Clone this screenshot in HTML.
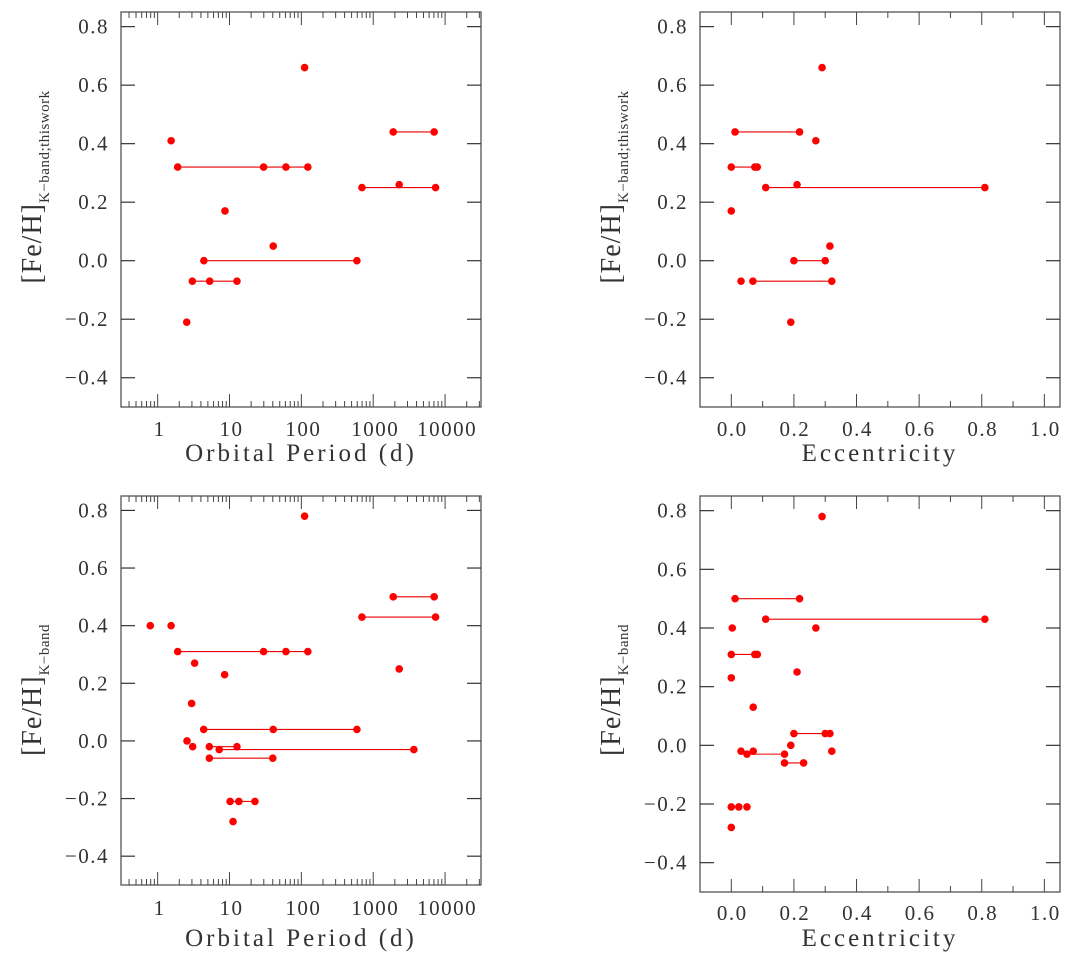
<!DOCTYPE html>
<html><head><meta charset="utf-8"><style>
html,body{margin:0;padding:0;background:#fff;}
svg{display:block;font-family:"Liberation Serif",serif;}
</style></head><body>
<svg id="chart" width="1071" height="966" viewBox="0 0 1071 966" xmlns="http://www.w3.org/2000/svg"></svg>
<script>
// Groups: each group is a set of points sharing a [Fe/H] value, connected by a line
const tlPeriods = [[1.54],[1.9,29.8,61,123],[111],[1900,7050],[697,2300,7370],[8.65],[40.6],[4.4,593],[3.04,5.3,12.7],[2.54]];
const tlFeHPts  = [[0.41],[0.32,0.32,0.32,0.32],[0.66],[0.44,0.44],[0.25,0.26,0.25],[0.17],[0.05],[0,0],[-0.07,-0.07,-0.07],[-0.21]];

const trEcc     = [[0.29],[0.012,0.218],[0.27],[0.0,0.075,0.083],[0.11,0.81],[0.21],[0.0],[0.315],[0.2,0.30],[0.031],[0.069,0.321],[0.19]];
const trFeHPts  = [[0.66],[0.44,0.44],[0.41],[0.32,0.32,0.32],[0.25,0.25],[0.26],[0.17],[0.05],[0,0],[-0.07],[-0.07,-0.07],[-0.21]];

const blPeriods = [[0.79],[1.54],[1.9,29.8,61,123],[3.27],[8.55],[111],[1900,7050],[697,7370],[2300],[2.97],[4.37,40.6,593],[2.56],[3.07],[5.24,12.7],[7.2,3680],[5.24,40],[10.2,13.5,22.6],[11.2]];
const blFeHPts  = [[0.40],[0.40],[0.31,0.31,0.31,0.31],[0.27],[0.23],[0.78],[0.50,0.50],[0.43,0.43],[0.25],[0.13],[0.04,0.04,0.04],[0.0],[-0.02],[-0.02,-0.02],[-0.03,-0.03],[-0.06,-0.06],[-0.21,-0.21,-0.21],[-0.28]];

const brEcc     = [[0.29],[0.012,0.218],[0.11,0.81],[0.003],[0.27],[0.0,0.075,0.083],[0.21],[0.0],[0.07],[0.2,0.30,0.315],[0.19],[0.031],[0.07],[0.321],[0.05,0.17],[0.17,0.231],[0.0],[0.024],[0.05],[0.0]];
const brFeHPts  = [[0.78],[0.50,0.50],[0.43,0.43],[0.40],[0.40],[0.31,0.31,0.31],[0.25],[0.23],[0.13],[0.04,0.04,0.04],[0.0],[-0.02],[-0.02],[-0.02],[-0.03,-0.03],[-0.06,-0.06],[-0.21],[-0.21],[-0.21],[-0.28]];

const yTickVals = [0.8,0.6,0.4,0.2,0.0,-0.2,-0.4];
const yTickLabels = ["0.8","0.6","0.4","0.2","0.0","\u22120.2","\u22120.4"];
const logTickVals = [1,10,100,1000,10000];
const logTickLabels = ["1","10","100","1000","10000"];
const eccTickVals = [0,0.2,0.4,0.6,0.8,1.0];
const eccTickLabels = ["0.0","0.2","0.4","0.6","0.8","1.0"];

const svg = document.getElementById('chart');
const NS = 'http://www.w3.org/2000/svg';
function mk(tag, attrs, parent){const e=document.createElementNS(NS,tag);for(const k in attrs)e.setAttribute(k,attrs[k]);(parent||svg).appendChild(e);return e;}

const panels = [
 {id:'top-left',  L:121,R:481,T:12,B:407,log:true, xmin:-0.51,xmax:4.5, xs:tlPeriods,ys:tlFeHPts, sub:'K\u2212band;thiswork', xt:'Orbital Period (d)', tickY:436, titleY:461, ytitleC:187},
 {id:'top-right', L:700,R:1060,T:12,B:407,log:false,xmin:-0.1,xmax:1.05, xs:trEcc,ys:trFeHPts, sub:'K\u2212band;thiswork', xt:'Eccentricity', tickY:436, titleY:461, ytitleC:187},
 {id:'bottom-left',L:121,R:481,T:496,B:885,log:true,xmin:-0.51,xmax:4.5, xs:blPeriods,ys:blFeHPts, sub:'K\u2212band', xt:'Orbital Period (d)', tickY:915, titleY:946, ytitleC:690},
 {id:'bottom-right',L:700,R:1060,T:496,B:892,log:false,xmin:-0.1,xmax:1.05, xs:brEcc,ys:brFeHPts, sub:'K\u2212band', xt:'Eccentricity', tickY:920, titleY:946, ytitleC:690}
];
const YMIN=-0.5, YMAX=0.85;

panels.forEach(p=>{
  const g = mk('g',{});
  
  
  const xs = v => p.L + ((p.log?Math.log10(v):v) - p.xmin)/(p.xmax-p.xmin)*(p.R-p.L);
  const ys = v => p.B - (v-YMIN)/(YMAX-YMIN)*(p.B-p.T);
  const fr = mk('rect',{x:p.L,y:p.T,width:p.R-p.L,height:p.B-p.T,fill:'none',stroke:'#555','stroke-width':1.3},g);
  
  
  yTickVals.forEach((v,i)=>{
    const y=ys(v);
    mk('line',{x1:p.L,x2:p.L+14,y1:y,y2:y,stroke:'#333','stroke-width':1.2},g);
    mk('line',{x1:p.R-14,x2:p.R,y1:y,y2:y,stroke:'#333','stroke-width':1.2},g);
    const t=mk('text',{x:p.L-12,y:y+7,'text-anchor':'end','font-size':21,'letter-spacing':'1.5',fill:'#333'},g);
    t.textContent=yTickLabels[i];
    
    
  });
  if(p.log){
    for(let d=-1; d<=4; d++){
      for(let m=1;m<=9;m++){
        const v=m*Math.pow(10,d);
        const lv=Math.log10(v);
        if(lv<p.xmin||lv>p.xmax)continue;
        const len = m===1?13:6;
        const x=xs(v);
        mk('line',{x1:x,x2:x,y1:p.T,y2:p.T+len,stroke:'#444','stroke-width':1},g);
        mk('line',{x1:x,x2:x,y1:p.B,y2:p.B-len,stroke:'#444','stroke-width':1},g);
      }
    }
    logTickVals.forEach((v,i)=>{
      const t=mk('text',{x:xs(v)+2,y:p.tickY,'text-anchor':'middle','font-size':21,'letter-spacing':'1.5',fill:'#333'},g);
      t.textContent=logTickLabels[i];
      
      
    });
  } else {
    for(let k=0;k<=10;k++){
      const v=k/10, x=xs(v), len = k%2===0?13:6;
      mk('line',{x1:x,x2:x,y1:p.T,y2:p.T+len,stroke:'#444','stroke-width':1},g);
      mk('line',{x1:x,x2:x,y1:p.B,y2:p.B-len,stroke:'#444','stroke-width':1},g);
    }
    eccTickVals.forEach((v,i)=>{
      const t=mk('text',{x:xs(v)+1,y:p.tickY,'text-anchor':'middle','font-size':21,'letter-spacing':'1.5',fill:'#333'},g);
      t.textContent=eccTickLabels[i];
      
      
    });
  }
  const xt=mk('text',{x:(p.L+p.R)/2,y:p.titleY,'text-anchor':'middle','font-size':25,fill:'#333','letter-spacing':'3'},g);
  xt.textContent=p.xt;
  
  
  const yt=mk('text',{transform:`translate(${p.L-80},${p.ytitleC}) rotate(-90)`,'text-anchor':'middle','font-size':28,fill:'#333','letter-spacing':'1'},g);
  
  
  const s1=mk('tspan',{},yt); s1.textContent='[Fe/H]';
  const s2=mk('tspan',{'font-size':15,dy:8,'letter-spacing':'0.5'},yt); s2.textContent=p.sub;
  p.xs.forEach((grp,gi)=>{
    const yv=p.ys[gi];
    if(grp.length>1){
      const xsS=grp.map(xs), mn=Math.min(...xsS), mx=Math.max(...xsS);
      const ln=mk('line',{x1:mn,x2:mx,y1:ys(yv[0]),y2:ys(yv[0]),stroke:'#e00','stroke-width':1.1},g);
      
      
    }
    grp.forEach((xv,j)=>{
      const c=mk('circle',{cx:xs(xv),cy:ys(yv[j]),r:3.8,fill:'#f00'},g);
      
      
    });
  });
});
</script>
</body></html>
